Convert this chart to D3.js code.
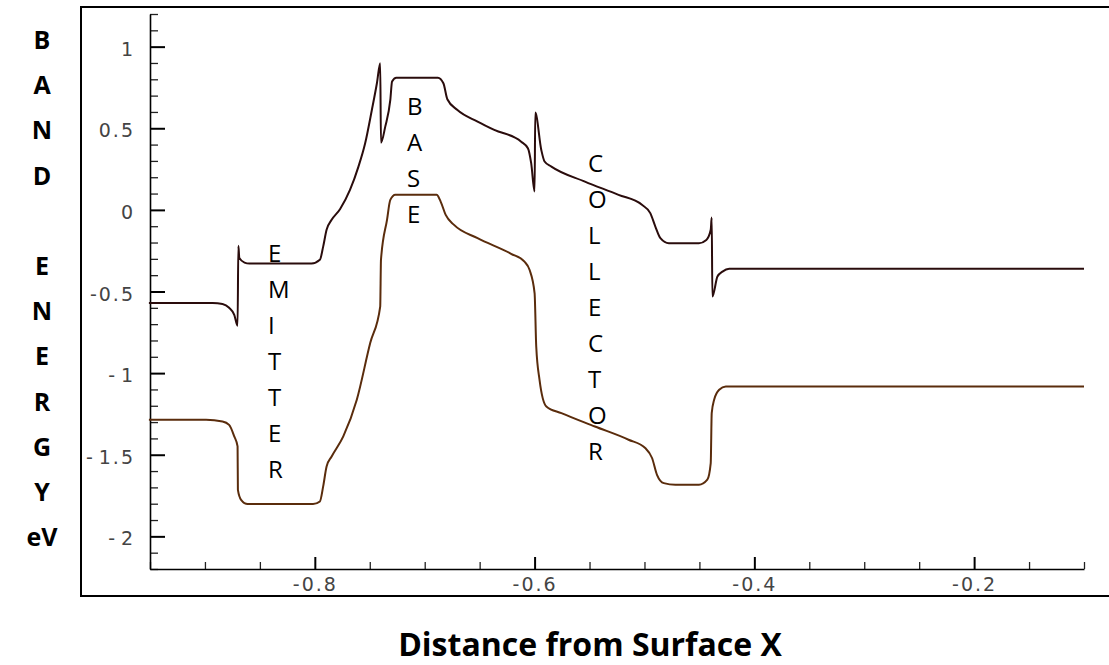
<!DOCTYPE html>
<html>
<head>
<meta charset="utf-8">
<script src="https://cdn.jsdelivr.net/npm/d3@7"></script>
<style>
  html, body { margin: 0; padding: 0; background: #fff; }
  svg { display: block; }
</style>
</head>
<body>
<svg id="chart" width="1109" height="665"></svg>
<script>
// Band diagram of an n-p-n structure: conduction band (upper) and valence band (lower)
// x = distance from surface, y = band energy in eV

const conductionX = [-0.951, -0.893, -0.884, -0.878, -0.8733, -0.8703, -0.8696, -0.8687, -0.864, -0.8595,
  -0.803, -0.7954, -0.7924, -0.7893, -0.7847, -0.7771, -0.768, -0.7603, -0.7542, -0.7481, -0.7435, -0.7405,
  -0.7398, -0.7359, -0.7313, -0.7297, -0.7258, -0.688, -0.683, -0.6794, -0.6702, -0.6519, -0.6367, -0.6122,
  -0.6061, -0.6031, -0.6, -0.5994, -0.5939, -0.5909, -0.5847, -0.5542, -0.5236, -0.5023, -0.4947, -0.4901,
  -0.4855, -0.4778, -0.4504, -0.4437, -0.4397, -0.4388, -0.4382, -0.4336, -0.429, -0.4229, -0.1];
const conductionE = [-0.571, -0.571, -0.577, -0.600, -0.643, -0.710, -0.220, -0.294, -0.323, -0.329,
  -0.329, -0.306, -0.225, -0.122, -0.061, 0.004, 0.122, 0.265, 0.408, 0.612, 0.776, 0.898,
  0.412, 0.510, 0.674, 0.786, 0.810, 0.810, 0.776, 0.678, 0.612, 0.541, 0.490, 0.418,
  0.378, 0.286, 0.112, 0.596, 0.367, 0.296, 0.265, 0.173, 0.092, 0.031, -0.020, -0.102,
  -0.173, -0.204, -0.204, -0.184, -0.122, -0.047, -0.531, -0.408, -0.378, -0.361, -0.361];

const valenceX = [-0.951, -0.899, -0.884, -0.878, -0.8733, -0.8703, -0.87, -0.8671, -0.8611, -0.8016,
  -0.7954, -0.7924, -0.7893, -0.7847, -0.7741, -0.7618, -0.7496, -0.7405, -0.7398, -0.7343, -0.7313,
  -0.7267, -0.6892, -0.6855, -0.6809, -0.6733, -0.6519, -0.6214, -0.6092, -0.6046, -0.6, -0.5985,
  -0.5955, -0.5893, -0.5756, -0.5451, -0.5145, -0.4993, -0.4931, -0.4886, -0.4824, -0.4718, -0.4504,
  -0.4428, -0.4397, -0.4388, -0.4366, -0.432, -0.426, -0.4107, -0.1];
const valenceE = [-1.286, -1.286, -1.296, -1.317, -1.388, -1.449, -1.715, -1.776, -1.802, -1.802,
  -1.786, -1.694, -1.572, -1.511, -1.388, -1.163, -0.816, -0.592, -0.306, -0.061, 0.061,
  0.092, 0.092, 0.051, -0.031, -0.092, -0.173, -0.269, -0.317, -0.367, -0.510, -0.837,
  -1.041, -1.204, -1.245, -1.327, -1.408, -1.459, -1.520, -1.623, -1.674, -1.684, -1.684,
  -1.653, -1.551, -1.245, -1.163, -1.102, -1.082, -1.082, -1.082];

const xMajorTicks = [-0.8, -0.6, -0.4, -0.2];
const xTickLabels = ["-0.8", "-0.6", "-0.4", "-0.2"];
const xMinorTicks = [-0.95, -0.9, -0.85, -0.75, -0.7, -0.65, -0.55, -0.5, -0.45, -0.35, -0.3, -0.25, -0.15, -0.1];
const yMajorTicks = [-2, -1.5, -1, -0.5, 0, 0.5, 1];
const yTickLabels = ["-\u200A2", "-\u200A1.5", "-\u200A1", "-0.5", "0", "0.5", "1"];
const yMinorTicks = [-2.2, -2.1, -1.9, -1.8, -1.7, -1.6, -1.4, -1.3, -1.2, -1.1, -0.9, -0.8, -0.7, -0.6,
  -0.4, -0.3, -0.2, -0.1, 0.1, 0.2, 0.3, 0.4, 0.6, 0.7, 0.8, 0.9, 1.1, 1.2];

// region names: left edge (x) and first-letter baseline (y) in data units
const regionNames = ["EMITTER", "BASE", "COLLECTOR"];
const regionX = [-0.8426, -0.7161, -0.5514];
const regionY = [-0.3175, 0.584, 0.234];

const yTitleLetters = ["B", "A", "N", "D", "", "E", "N", "E", "R", "G", "Y", "eV"];
const xTitle = "Distance from Surface X";

const svg = d3.select("#chart");

// outer frame
svg.append("rect")
  .attr("x", 81).attr("y", 7)
  .attr("width", 1060).attr("height", 589)
  .attr("fill", "none").attr("stroke", "#000").attr("stroke-width", 2);

const x = d3.scaleLinear().domain([-0.95, -0.1]).range([150, 1084]);
const y = d3.scaleLinear().domain([-2.2, 1.2]).range([569, 14]);

const tickFont = "'DejaVu Sans', sans-serif";

// minor ticks
svg.append("g").attr("transform", "translate(0,569)")
  .call(d3.axisBottom(x).tickValues(xMinorTicks).tickSize(-7).tickSizeOuter(0).tickFormat(""))
  .call(g => g.select(".domain").remove())
  .call(g => g.selectAll("line").attr("stroke", "#222").attr("stroke-width", 1.3));
svg.append("g").attr("transform", "translate(150,0)")
  .call(d3.axisLeft(y).tickValues(yMinorTicks).tickSize(-8).tickSizeOuter(0).tickFormat(""))
  .call(g => g.select(".domain").remove())
  .call(g => g.selectAll("line").attr("stroke", "#222").attr("stroke-width", 1.3));

// major ticks + labels
const xAxis = svg.append("g").attr("transform", "translate(0,569)")
  .call(d3.axisBottom(x).tickValues(xMajorTicks).tickSize(-12).tickSizeOuter(0).tickPadding(9)
    .tickFormat((d, i) => xTickLabels[i]));
xAxis.select(".domain").attr("stroke", "#000").attr("stroke-width", 1.6);
xAxis.selectAll("line").attr("stroke", "#000").attr("stroke-width", 2);
xAxis.selectAll("text").attr("font-family", tickFont).attr("font-size", 19)
  .attr("fill", "#444").attr("letter-spacing", 2);

const yAxis = svg.append("g").attr("transform", "translate(150,0)")
  .call(d3.axisLeft(y).tickValues(yMajorTicks).tickSize(-15).tickSizeOuter(0).tickPadding(15)
    .tickFormat((d, i) => yTickLabels[i]));
yAxis.select(".domain").attr("stroke", "#000").attr("stroke-width", 1.6);
yAxis.selectAll("line").attr("stroke", "#000").attr("stroke-width", 2);
yAxis.selectAll("text").attr("font-family", tickFont).attr("font-size", 19)
  .attr("fill", "#444").attr("letter-spacing", 2).attr("dy", "0.45em");

// band curves
const line = d3.line().x(d => x(d[0])).y(d => y(d[1])).curve(d3.curveMonotoneX);
svg.append("path")
  .datum(valenceX.map((v, i) => [v, valenceE[i]]))
  .attr("d", line).attr("fill", "none")
  .attr("stroke", "#5a2c0c").attr("stroke-width", 2).attr("stroke-linejoin", "round");
svg.append("path")
  .datum(conductionX.map((v, i) => [v, conductionE[i]]))
  .attr("d", line).attr("fill", "none")
  .attr("stroke", "#2a0c0c").attr("stroke-width", 2).attr("stroke-linejoin", "round");

// region names written one letter per line
const letterStep = 36;
regionNames.forEach((name, k) => {
  const t = svg.append("text")
    .attr("font-family", "'Open Sans', sans-serif")
    .attr("font-size", 24).attr("fill", "#000");
  name.split("").forEach((ch, i) => {
    t.append("tspan").attr("x", x(regionX[k])).attr("y", y(regionY[k]) + i * letterStep).text(ch);
  });
});

// vertical axis title
const yt = svg.append("text")
  .attr("font-family", "'Open Sans', sans-serif").attr("font-weight", "bold")
  .attr("font-size", 25).attr("fill", "#000").attr("text-anchor", "middle");
yTitleLetters.forEach((ch, i) => {
  yt.append("tspan").attr("x", 42).attr("y", 49 + i * 45.2).text(ch);
});

// horizontal axis title
svg.append("text")
  .attr("x", 590).attr("y", 656)
  .attr("text-anchor", "middle")
  .attr("font-family", "'Open Sans', sans-serif").attr("font-weight", "bold")
  .attr("font-size", 32).attr("fill", "#000")
  .text(xTitle);
</script>
</body>
</html>
